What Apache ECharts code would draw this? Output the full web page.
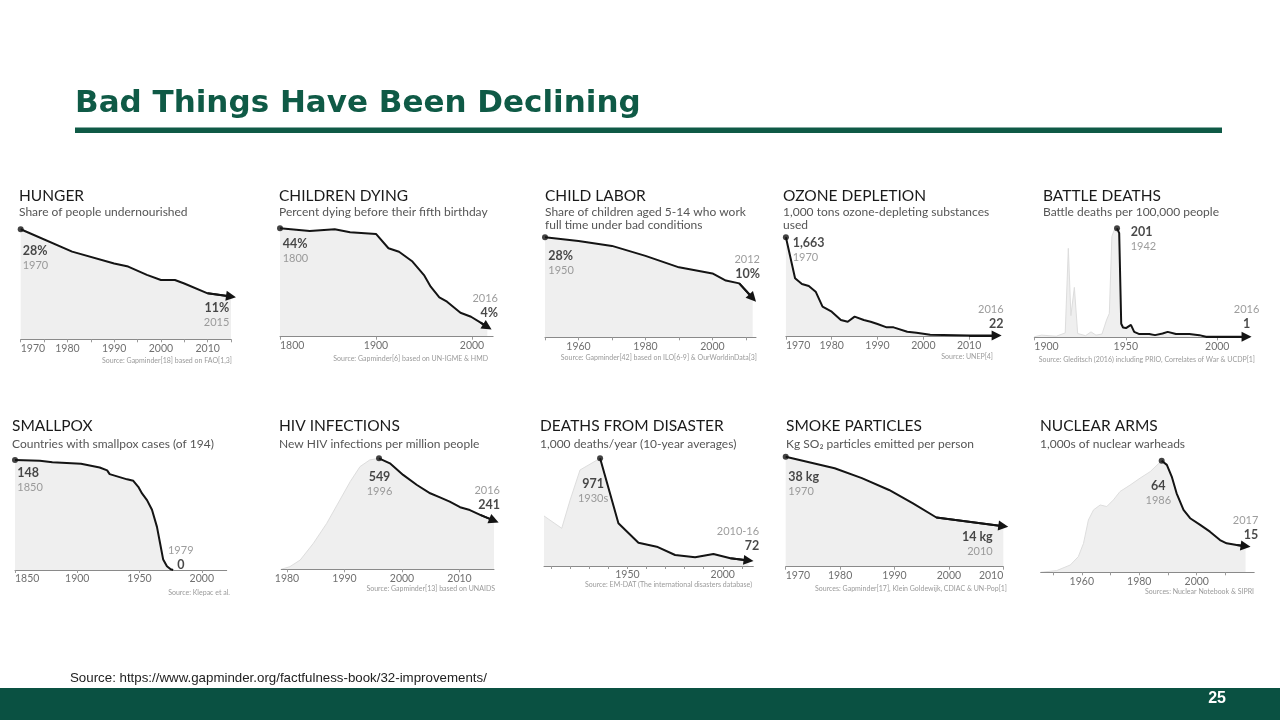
<!DOCTYPE html>
<html><head><meta charset="utf-8">
<script src="https://cdn.jsdelivr.net/npm/echarts@6/dist/echarts.min.js"></script>
<style>html,body{margin:0;padding:0;background:#fff}#c{width:1280px;height:720px}</style>
</head><body><div id="c"></div>
<script>
// ---------- text ----------
const slideTitle = 'Bad Things Have Been Declining';
const slideSource = 'Source: https://www.gapminder.org/factfulness-book/32-improvements/';
const pageNumber = '25';
const panelTitles = ['HUNGER','CHILDREN DYING','CHILD LABOR','OZONE DEPLETION','BATTLE DEATHS','SMALLPOX','HIV INFECTIONS','DEATHS FROM DISASTER','SMOKE PARTICLES','NUCLEAR ARMS'];
const panelSubtitles = ['Share of people undernourished','Percent dying before their fifth birthday','Share of children aged 5-14 who work\nfull time under bad conditions','1,000 tons ozone-depleting substances\nused','Battle deaths per 100,000 people','Countries with smallpox cases (of 194)','New HIV infections per million people','1,000 deaths/year (10-year averages)','Kg SO\u2082 particles emitted per person','1,000s of nuclear warheads'];
const panelSources = ['Source: Gapminder[18] based on FAO[1,3]','Source: Gapminder[6] based on UN-IGME & HMD','Source: Gapminder[42] based on ILO[6-9] & OurWorldinData[3]','Source: UNEP[4]','Source: Gleditsch (2016) including PRIO, Correlates of War & UCDP[1]','Source: Klepac et al.','Source: Gapminder[13] based on UNAIDS','Source: EM-DAT (The international disasters database)','Sources: Gapminder[17], Klein Goldewijk, CDIAC & UN-Pop[1]','Sources: Nuclear Notebook & SIPRI'];
const startValueTexts = ['28%','44%','28%','1,663','201','148','549','971','38 kg','64'];
const startYearTexts  = ['1970','1800','1950','1970','1942','1850','1996','1930s','1970','1986'];
const endValueTexts   = ['11%','4%','10%','22','1','0','241','72','14 kg','15'];
const endYearTexts    = ['2015','2016','2012','2016','2016','1979','2016','2010-16','2010','2017'];

// ---------- data ----------
const hungerYears  = [1970,1981,1990,1993,1997,2000,2003,2005,2010,2015];
const hungerValues = [28,22.3,19.3,18.5,16.4,15.1,15.1,14.2,11.7,10.9];
const hungerTicks  = [1970,1975,1980,1985,1990,1995,2000,2005,2010,2015];
const hungerTickLabels = [1970,1980,1990,2000,2010];

const childYears  = [1800,1831,1857,1873,1900,1913,1924,1938,1950,1957,1966,1974,1988,1999,2009,2016];
const childValues = [44,42.9,43.6,42.4,41.7,35.9,34.5,30.5,25,20.3,16,14.2,9.7,8.1,5.7,4];
const childTicks  = [1800,1900,2000];
const childTickLabels = [1800,1900,2000];

const laborYears  = [1950,1960,1970,1980,1990,2000,2004,2008,2012];
const laborValues = [28,27,25.6,22.8,19.6,17.9,15.9,15.1,11];
const laborTicks  = [1950,1960,1970,1980,1990,2000,2010];
const laborTickLabels = [1960,1980,2000];

const ozoneYears  = [1970,1972,1973.5,1975,1976.5,1978,1980,1982,1983.5,1985,1987,1988.5,1990,1992,1993.5,1996.5,1998.5,2001.5,2010,2016];
const ozoneValues = [1663,977,882,848,753,502,419,279,251,335,279,251,212,156,156,84,67,33,22,22];
const ozoneTicks  = [1970,1980,1990,2000,2010];
const ozoneTickLabels = [1970,1980,1990,2000,2010];

const battlePreYears  = [1900,1904,1908,1912,1916.9,1918.6,1920,1921.9,1923.7,1928,1931,1933.7,1937,1939.5,1941,1942.4,1943.7];
const battlePreValues = [1,4,3,2,8,164,40,92,7,3,10,4,6,32,44,186,198];
const battleYears  = [1945.2,1946.4,1947.5,1948.5,1950.1,1952.8,1954.6,1957.4,1962.8,1966,1970.1,1972.9,1977.4,1984.7,1990.2,1993.8,2016];
const battleValues = [201,192,25,18,17,23,10,6,6,4,7,10,6,6,4,1,1];
const battleTicks  = [1900,1950,2000];
const battleTickLabels = [1900,1950,2000];

const smallpoxYears  = [1850,1870,1880,1903,1918,1924,1926,1934,1940,1945,1949,1952,1956,1960,1964,1966.5,1969,1972,1975,1977];
const smallpoxValues = [148,147,145,143,138,134,129,125,122,120,112,103,94,81,58,36,14,5,1,0];
const smallpoxTicks  = [1850,1900,1950,2000];
const smallpoxTickLabels = [1850,1900,1950,2000];

const hivPreYears  = [1979,1980.5,1982.3,1984.6,1986.9,1989.2,1991,1992.7,1994.4];
const hivPreValues = [0,13,46,129,227,343,434,508,541];
const hivYears  = [1996,1997.9,2000.2,2002.6,2004.9,2006.6,2008.3,2010.1,2011.8,2013.6,2016];
const hivValues = [549,524,467,417,376,356,335,307,293,269,241];
const hivTicks  = [1980,1990,2000,2010];
const hivTickLabels = [1980,1990,2000,2010];

const disasterPreYears  = [1906.3,1915.6,1920,1925.2];
const disasterPreValues = [451,340,595,866];
const disasterYears  = [1935.7,1945.3,1955.8,1965.4,1975,1985.5,1995.1,2004,2013.5];
const disasterValues = [971,385,210,174,99,78,108,70,50];
const disasterTicks  = [1910,1920,1930,1940,1950,1960,1970,1980,1990,2000,2010];
const disasterTickLabels = [1950,2000];

const smokeYears  = [1970,1979,1984,1989,1993.4,1997.7,2010];
const smokeValues = [38,34,30.6,26.5,21.9,17,14];
const smokeTicks  = [1970,1980,1990,2000,2010];
const smokeTickLabels = [1970,1980,1990,2000,2010];

const nuclearPreYears  = [1945.7,1951.3,1956,1958.8,1960.6,1962.3,1964.1,1966.4,1968.7,1971,1973.3,1976.8,1980.3,1983.8];
const nuclearPreValues = [0,1,4.2,9,16.6,30,35.8,38.6,37.7,41.5,46.3,50,54,57.7];
const nuclearYears  = [1987.8,1989.6,1991.3,1993,1995.4,1997.7,2001.2,2004.6,2008.1,2010.4,2013.9,2017];
const nuclearValues = [64,61.6,54.9,45.3,35.8,31,27.2,23.3,18.5,16.6,15.7,15];
const nuclearTicks  = [1950,1960,1970,1980,1990,2000,2010];
const nuclearTickLabels = [1960,1980,2000];

const panels = [
  {years:hungerYears, values:hungerValues, preYears:[], preValues:[], ticks:hungerTicks, labels:hungerTickLabels, arrow:true},
  {years:childYears, values:childValues, preYears:[], preValues:[], ticks:childTicks, labels:childTickLabels, arrow:true},
  {years:laborYears, values:laborValues, preYears:[], preValues:[], ticks:laborTicks, labels:laborTickLabels, arrow:true},
  {years:ozoneYears, values:ozoneValues, preYears:[], preValues:[], ticks:ozoneTicks, labels:ozoneTickLabels, arrow:true},
  {years:battleYears, values:battleValues, preYears:battlePreYears, preValues:battlePreValues, ticks:battleTicks, labels:battleTickLabels, arrow:true},
  {years:smallpoxYears, values:smallpoxValues, preYears:[], preValues:[], ticks:smallpoxTicks, labels:smallpoxTickLabels, arrow:false},
  {years:hivYears, values:hivValues, preYears:hivPreYears, preValues:hivPreValues, ticks:hivTicks, labels:hivTickLabels, arrow:true},
  {years:disasterYears, values:disasterValues, preYears:disasterPreYears, preValues:disasterPreValues, ticks:disasterTicks, labels:disasterTickLabels, arrow:true},
  {years:smokeYears, values:smokeValues, preYears:[], preValues:[], ticks:smokeTicks, labels:smokeTickLabels, arrow:true},
  {years:nuclearYears, values:nuclearValues, preYears:nuclearPreYears, preValues:nuclearPreValues, ticks:nuclearTicks, labels:nuclearTickLabels, arrow:true}
];

// ---------- layout (positions & styles only) ----------
const layout = [
 {left:20.7,right:231,base:339.3,top:221.4,xMin:1970,xMax:2015,yMax:30,row:0,tx:19,minAlign:'left',maxAlign:null,srcX:232,srcY:361,
  start:{align:'left',dx:2,dy:14}, end:{align:'right',dx:-1.7,dy:4.1,yearFirst:false}},
 {left:280,right:493.1,base:336.7,top:213.5,xMin:1800,xMax:2022,yMax:50,row:0,tx:279,minAlign:'left',maxAlign:null,srcX:488,srcY:359,
  start:{align:'left',dx:2.7,dy:8.1}, end:{align:'right',dx:10.6,dy:-35.2,yearFirst:true}},
 {left:545,right:756,base:337.3,top:230.2,xMin:1950,xMax:2013,yMax:30,row:0,tx:545,minAlign:null,maxAlign:null,srcX:757,srcY:357.3,
  start:{align:'left',dx:3.3,dy:11}, end:{align:'right',dx:7.3,dy:-45.4,yearFirst:true}},
 {left:785.9,right:996.6,base:336.7,top:229.1,xMin:1970,xMax:2016,yMax:1800,row:0,tx:783,minAlign:'left',maxAlign:null,srcX:993,srcY:356.7,
  start:{align:'left',dx:6.8,dy:-1.4}, end:{align:'right',dx:7,dy:-32.8,yearFirst:true}},
 {left:1034.3,right:1249.3,base:337.3,top:218,xMin:1900,xMax:2017.5,yMax:220,row:0,tx:1043,minAlign:'left',maxAlign:null,srcX:1255,srcY:359.3,
  start:{align:'left',dx:13.7,dy:-3.4}, end:{align:'center',dx:0,dy:-34.2,yearFirst:true}},
 {left:15,right:226.7,base:570,top:451.1,xMin:1850,xMax:2020,yMax:160,row:1,tx:12,minAlign:'left',maxAlign:null,srcX:230,srcY:592.7,
  start:{align:'left',dx:2.3,dy:5.9}, end:{align:'center',dx:7.6,dy:-26.7,yearFirst:true}},
 {left:281.25,right:494,base:569.3,top:448,xMin:1979,xMax:2016,yMax:600,row:1,tx:279,minAlign:null,maxAlign:null,srcX:495,srcY:588.3,
  start:{align:'center',dx:0.5,dy:11}, end:{align:'right',dx:6,dy:-36.7,yearFirst:true}},
 {left:544,right:753.3,base:566,top:455.1,xMin:1906.3,xMax:2016,yMax:1000,row:1,tx:540,minAlign:null,maxAlign:null,srcX:752,srcY:584.3,
  start:{align:'center',dx:-7,dy:18.3}, end:{align:'right',dx:10.6,dy:-35.6,yearFirst:true}},
 {left:785.7,right:1003.3,base:566.7,top:450.9,xMin:1970,xMax:2010,yMax:40,row:1,tx:786,minAlign:'left',maxAlign:'right',srcX:1007,srcY:588.3,
  start:{align:'left',dx:2.6,dy:12.6}, end:{align:'right',dx:-10.6,dy:3.1,yearFirst:false}},
 {left:1040.7,right:1254.2,base:572.3,top:450.2,xMin:1945.7,xMax:2020,yMax:70,row:1,tx:1040,minAlign:null,maxAlign:null,srcX:1254,srcY:591.7,
  start:{align:'center',dx:-3.3,dy:17.6}, end:{align:'right',dx:12.7,dy:-32.8,yearFirst:true}}
];
const rowTitleY = [196.3, 426.3];
const rowSubY = [212.5, 444];
const GREEN = '#0f5a46';
const LINE = '#141414';

function pairs(xs, ys){ return xs.map((x,i)=>[x, ys[i]]); }
function richFor(align){
  return {
    b:{fontFamily:'Lato', fontWeight:700, fontSize:12.5, lineHeight:15, color:'#1a1a1a', align:align},
    g:{fontFamily:'Lato', fontWeight:400, fontSize:11, lineHeight:14, color:'#858585', align:align}
  };
}
function annLabel(text, cfg){
  return {show:true, position:'inside', align:cfg.align, verticalAlign:'top', offset:[cfg.dx,cfg.dy],
    formatter:function(){return text;}, rich:richFor(cfg.align), color:'#1a1a1a', textBorderWidth:0};
}

const option = {animation:false, backgroundColor:'#ffffff', grid:[], xAxis:[], yAxis:[], series:[], graphic:[]};

panels.forEach(function(p,i){
  const L = layout[i];
  option.grid.push({left:L.left, top:L.top, width:L.right-L.left, height:L.base-L.top, containLabel:false, outerBoundsMode:'none'});
  option.xAxis.push({type:'value', gridIndex:i, min:L.xMin, max:L.xMax, z:2,
    axisLine:{show:true, onZero:false, lineStyle:{color:'#8a8a8a', width:1}},
    axisTick:{show:true, customValues:p.ticks, length:3, lineStyle:{color:'#9a9a9a'}},
    axisLabel:{show:true, customValues:p.labels, formatter:function(v){return String(v);}, fontFamily:'Lato', fontSize:10.5, color:'#707070', margin:3.5, alignMinLabel:L.minAlign, alignMaxLabel:L.maxAlign},
    splitLine:{show:false}});
  option.yAxis.push({type:'value', gridIndex:i, min:0, max:L.yMax, show:false});
  const main = pairs(p.years, p.values);
  const all = pairs(p.preYears.concat(p.years), p.preValues.concat(p.values));
  const hasPre = p.preYears.length > 0;
  option.series.push({type:'line', xAxisIndex:i, yAxisIndex:i, data:all, symbol:'none', silent:true, clip:false, z:1,
    lineStyle:{color:hasPre?'#dddddd':'#efefef', width:hasPre?1:0}, areaStyle:{color:'#efefef', opacity:1}});
  const n = main.length;
  const line = {type:'line', xAxisIndex:i, yAxisIndex:i, data:main, symbol:'none', silent:true, clip:false, z:3,
    lineStyle:{color:LINE, width:2}};
  if (p.arrow){
    line.markLine = {silent:true, symbol:['none','triangle'], symbolSize:10, animation:false,
      lineStyle:{color:LINE, width:2, type:'solid'}, itemStyle:{color:LINE}, label:{show:false}, emphasis:{disabled:true},
      data:[[{coord:main[n-2]},{coord:main[n-1]}]]};
  }
  option.series.push(line);
  const endText = L.end.yearFirst ? '{g|'+endYearTexts[i]+'}\n{b|'+endValueTexts[i]+'}' : '{b|'+endValueTexts[i]+'}\n{g|'+endYearTexts[i]+'}';
  option.series.push({type:'scatter', xAxisIndex:i, yAxisIndex:i, silent:true, clip:false, z:5,
    data:[
      {value:main[0], symbol:'circle', symbolSize:6, itemStyle:{color:LINE}, label:annLabel('{b|'+startValueTexts[i]+'}\n{g|'+startYearTexts[i]+'}', L.start)},
      {value:main[n-1], symbol:'circle', symbolSize:0, itemStyle:{color:LINE}, label:annLabel(endText, L.end)}
    ]});
  // titles
  option.graphic.push({type:'text', x:L.tx, y:rowTitleY[L.row], silent:true, style:{text:panelTitles[i], font:'400 15.5px Lato', fill:'#1a1a1a', align:'left', verticalAlign:'middle'}});
  panelSubtitles[i].split('\n').forEach(function(s,k){
    option.graphic.push({type:'text', x:L.tx, y:rowSubY[L.row]+k*12.7, silent:true, style:{text:s, font:'400 12px Lato', fill:'#555555', align:'left', verticalAlign:'middle'}});
  });
  option.graphic.push({type:'text', x:L.srcX, y:L.srcY, silent:true, style:{text:panelSources[i], font:'400 7px Lato', fill:'#9a9a9a', align:'right', verticalAlign:'middle'}});
});

option.graphic.push(
  {type:'text', x:75, y:104, silent:true, style:{text:slideTitle, font:'700 31px "DejaVu Sans"', fill:GREEN, align:'left', verticalAlign:'middle'}},
  {type:'rect', silent:true, shape:{x:75, y:127.5, width:1147, height:5.5}, style:{fill:GREEN}},
  {type:'text', x:70, y:678, silent:true, style:{text:slideSource, font:'400 13.3px "Liberation Sans"', fill:'#222222', align:'left', verticalAlign:'middle'}},
  {type:'rect', silent:true, shape:{x:0, y:688, width:1280, height:32}, style:{fill:'#0a5142'}},
  {type:'text', x:1226, y:699, silent:true, style:{text:pageNumber, font:'700 16px "Liberation Sans"', fill:'#ffffff', align:'right', verticalAlign:'middle'}}
);

const chart = echarts.init(document.getElementById('c'), null, {renderer:'canvas'});
chart.setOption(option);
</script>
</body></html>
